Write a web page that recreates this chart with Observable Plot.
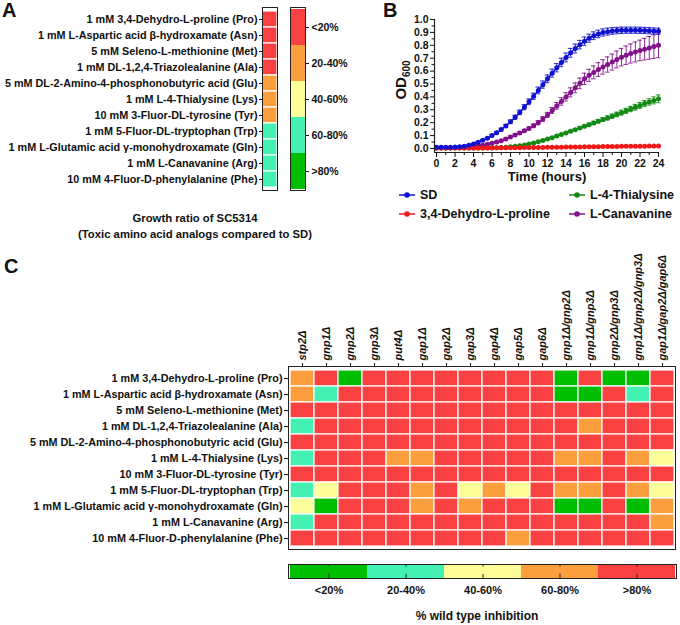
<!DOCTYPE html>
<html><head><meta charset="utf-8">
<script src="https://cdn.jsdelivr.net/npm/d3@7"></script>
<script src="https://cdn.jsdelivr.net/npm/@observablehq/plot@0.6"></script>
<style>
body{margin:0;background:#fff;font-family:"Liberation Sans",Arial,sans-serif;}
#root{position:relative;width:680px;height:625px;overflow:hidden;background:#fff;}
.pc g[aria-label="x-axis tick label"] text{font-style:italic;font-size:11px;}
.t{position:absolute;font-weight:bold;color:#111;white-space:nowrap;}
</style></head><body><div id="root"></div>
<script>
// ---------- data ----------
const analogs = [
  "1 mM 3,4-Dehydro-L-proline (Pro)",
  "1 mM L-Aspartic acid β-hydroxamate (Asn)",
  "5 mM Seleno-L-methionine (Met)",
  "1 mM DL-1,2,4-Triazolealanine (Ala)",
  "5 mM DL-2-Amino-4-phosphonobutyric acid (Glu)",
  "1 mM L-4-Thialysine (Lys)",
  "10 mM 3-Fluor-DL-tyrosine (Tyr)",
  "1 mM 5-Fluor-DL-tryptophan (Trp)",
  "1 mM L-Glutamic acid γ-monohydroxamate (Gln)",
  "1 mM L-Canavanine (Arg)",
  "10 mM 4-Fluor-D-phenylalanine (Phe)"
];
const growthBins = ["<20%", "20-40%", "40-60%", "60-80%", ">80%"];
const growthColors = ["#FA4141", "#FA9E3E", "#FFFF99", "#44F0B2", "#00BE00"];
// growth ratio bin index per analog (panel A)
const growthCode = [0, 0, 0, 0, 1, 1, 1, 3, 3, 3, 3];

const strains = ["stp2Δ","gnp1Δ","gnp2Δ","gnp3Δ","put4Δ","gap1Δ","gap2Δ","gap3Δ","gap4Δ","gap5Δ","gap6Δ",
  "gnp1Δ/gnp2Δ","gnp1Δ/gnp3Δ","gnp2Δ/gnp3Δ","gnp1Δ/gnp2Δ/gnp3Δ","gap1Δ/gap2Δ/gap6Δ"];
const inhBins = ["<20%", "20-40%", "40-60%", "60-80%", ">80%"];
const inhColors = ["#00BE00", "#44F0B2", "#FFFF99", "#FA9E3E", "#FA4141"];
// % wild type inhibition bin index (0:<20 ... 4:>80), rows = analogs, cols = strains
const inhPro = [3,4,0,4,4,4,4,4,4,4,4,0,4,0,0,4];
const inhAsn = [3,1,4,4,4,4,4,4,4,4,4,0,0,4,1,4];
const inhMet = [4,4,4,4,4,4,4,4,4,4,4,4,4,4,4,4];
const inhAla = [1,4,4,4,4,4,4,4,4,4,4,4,3,4,4,4];
const inhGlu = [4,4,4,4,4,4,4,4,4,4,4,4,4,4,4,4];
const inhLys = [1,4,4,4,3,3,4,4,4,4,4,3,3,4,3,2];
const inhTyr = [4,4,4,4,4,4,4,4,4,4,4,4,4,4,4,4];
const inhTrp = [1,2,4,4,4,3,4,2,3,2,4,3,3,4,3,2];
const inhGln = [2,0,4,4,4,3,4,3,4,4,4,0,0,4,0,3];
const inhArg = [1,4,4,4,4,4,4,4,4,4,4,4,4,4,4,3];
const inhPhe = [4,4,4,4,4,4,4,4,4,3,4,4,4,4,4,4];

// growth curves (panel B)
const hours = [0,0.5,1,1.5,2,2.5,3,3.5,4,4.5,5,5.5,6,6.5,7,7.5,8,8.5,9,9.5,10,10.5,11,11.5,12,
  12.5,13,13.5,14,14.5,15,15.5,16,16.5,17,17.5,18,18.5,19,19.5,20,20.5,21,21.5,22,22.5,23,23.5,24];
const odSD = [0.010,0.010,0.010,0.010,0.011,0.013,0.018,0.025,0.035,0.048,0.063,0.080,0.100,0.122,0.147,0.175,0.207,
  0.242,0.280,0.320,0.362,0.405,0.450,0.495,0.540,0.584,0.626,0.667,0.706,0.742,0.775,0.805,0.832,
  0.855,0.874,0.888,0.899,0.906,0.911,0.914,0.916,0.917,0.917,0.917,0.916,0.915,0.913,0.911,0.909];
const errSD = [0,0,0,0,0,0,0.002,0.003,0.004,0.005,0.006,0.007,0.008,0.009,0.010,0.012,0.014,0.016,0.018,0.020,
  0.022,0.024,0.026,0.028,0.030,0.031,0.032,0.033,0.034,0.034,0.034,0.033,0.032,0.031,0.030,0.029,0.028,0.027,
  0.026,0.025,0.025,0.024,0.024,0.024,0.024,0.024,0.024,0.024,0.024];
const odPro = [0.003,0.003,0.003,0.003,0.003,0.003,0.003,0.003,0.003,0.003,0.004,0.004,0.004,0.005,0.005,0.005,0.006,
  0.006,0.006,0.007,0.007,0.008,0.008,0.008,0.009,0.009,0.010,0.010,0.011,0.011,0.012,0.012,0.013,
  0.013,0.014,0.014,0.015,0.015,0.016,0.016,0.017,0.017,0.017,0.018,0.018,0.018,0.019,0.019,0.019];
const errPro = [0,0,0,0,0,0,0,0,0,0.003,0.003,0.003,0.003,0.003,0.003,0.003,0.003,0.003,0.003,0.003,0.003,0.003,
  0.003,0.003,0.003,0.003,0.003,0.003,0.003,0.003,0.003,0.003,0.003,0.003,0.003,0.003,0.003,0.003,0.003,0.003,
  0.003,0.003,0.003,0.003,0.003,0.003,0.003,0.003,0.003];
const odLys = [0.004,0.004,0.004,0.004,0.004,0.004,0.004,0.004,0.004,0.004,0.004,0.005,0.005,0.006,0.008,0.010,0.013,
  0.017,0.022,0.028,0.035,0.043,0.052,0.062,0.073,0.084,0.096,0.108,0.120,0.133,0.146,0.159,0.172,
  0.185,0.198,0.211,0.224,0.237,0.250,0.264,0.278,0.292,0.306,0.320,0.334,0.348,0.361,0.373,0.385];
const errLys = [0,0,0,0,0,0,0,0,0,0,0,0,0,0,0,0,0,0.002,0.002,0.003,0.003,0.004,0.004,0.005,0.005,
  0.006,0.006,0.007,0.008,0.008,0.009,0.010,0.011,0.012,0.013,0.014,0.015,0.016,0.017,0.018,0.019,
  0.020,0.021,0.022,0.023,0.024,0.025,0.027,0.030];
const odArg = [0.005,0.005,0.005,0.005,0.006,0.007,0.009,0.012,0.015,0.020,0.026,0.033,0.041,0.050,0.060,0.074,0.090,
  0.105,0.120,0.137,0.155,0.176,0.200,0.228,0.260,0.295,0.330,0.365,0.400,0.435,0.470,0.505,0.540,
  0.567,0.590,0.612,0.632,0.651,0.670,0.690,0.708,0.723,0.736,0.748,0.760,0.770,0.780,0.790,0.800];
const errArg = [0,0,0,0,0,0.001,0.002,0.002,0.003,0.003,0.004,0.004,0.005,0.005,0.006,0.007,0.008,
  0.009,0.010,0.011,0.012,0.014,0.016,0.018,0.020,0.023,0.026,0.029,0.032,0.035,0.038,0.041,0.044,
  0.047,0.050,0.053,0.056,0.059,0.062,0.065,0.068,0.071,0.074,0.077,0.080,0.084,0.088,0.092,0.096];
const seriesNames = ["SD", "3,4-Dehydro-L-proline", "L-4-Thialysine", "L-Canavanine"];
const seriesColors = ["#1010D0", "#F01818", "#138A13", "#82128A"];

const xMajor = [0,2,4,6,8,10,12,14,16,18,20,22,24];
const xMinor = [1,3,5,7,9,11,13,15,17,19,21,23];
const yMajor = [0,0.1,0.2,0.3,0.4,0.5,0.6,0.7,0.8,0.9,1.0];
const yMinor = [0.05,0.15,0.25,0.35,0.45,0.55,0.65,0.75,0.85,0.95];

// ---------- helpers ----------
const root = document.getElementById("root");
const FONT = '"Liberation Sans", Arial, Helvetica, sans-serif';
function style(fs){ return {fontFamily: FONT, fontSize: fs + "px", fontWeight: "bold", background: "transparent", overflow: "visible", color: "#111"}; }
function place(el, left, top){ el.style.position = "absolute"; el.style.left = left + "px"; el.style.top = top + "px"; el.style.maxWidth = "none"; root.appendChild(el); return el; }
function text(html, left, top, css){ const d = document.createElement("div"); d.className = "t"; d.innerHTML = html; d.style.left = left + "px"; d.style.top = top + "px"; d.style.cssText += css || ""; root.appendChild(d); return d; }

// ---------- Panel A ----------
const aData = analogs.map((a, i) => ({analog: a, bin: growthBins[growthCode[i]]}));
place(Plot.plot({
  width: 280, height: 200, marginLeft: 262, marginRight: 3, marginTop: 7, marginBottom: 10,
  style: style(10.8),
  x: {domain: ["SC5314"], axis: null, padding: 0},
  y: {domain: analogs, padding: 0, axis: null},
  color: {domain: growthBins, range: growthColors},
  marks: [
    Plot.cell(aData, {x: () => "SC5314", y: "analog", fill: "bin", stroke: "white", strokeWidth: 1.2}),
    Plot.frame({stroke: "#222", strokeWidth: 1}),
    Plot.axisY({tickSize: 3, tickPadding: 2, label: null})
  ]
}), 0, 0);

place(Plot.plot({
  width: 60, height: 200, marginLeft: 10, marginRight: 35, marginTop: 7, marginBottom: 10,
  style: style(10.5),
  x: {domain: ["k"], axis: null, padding: 0},
  y: {domain: growthBins, padding: 0, axis: null},
  color: {domain: growthBins, range: growthColors},
  marks: [
    Plot.cell(growthBins, {x: () => "k", y: d => d, fill: d => d}),
    Plot.frame({stroke: "#222", strokeWidth: 1}),
    Plot.axisY({anchor: "right", tickSize: 3, tickPadding: 3, label: null})
  ]
}), 280, 0);

text("A", 2, 0, "font-size:20px;line-height:20px;");
text("Growth ratio of SC5314<br>(Toxic amino acid analogs compared to SD)", 0, 210,
  "width:390px;text-align:center;font-size:11.3px;line-height:16px;");

// ---------- Panel B ----------
const curves = [
  {name: seriesNames[2], color: seriesColors[2], v: odLys, e: errLys},
  {name: seriesNames[3], color: seriesColors[3], v: odArg, e: errArg},
  {name: seriesNames[1], color: seriesColors[1], v: odPro, e: errPro},
  {name: seriesNames[0], color: seriesColors[0], v: odSD, e: errSD}
];
const bMarks = [];
for (const c of curves) {
  const pts = hours.map((t, i) => ({t, v: c.v[i], e: c.e[i] || 0})).filter(d => d.v != null);
  const eb = pts.filter(d => d.e > 0);
  bMarks.push(
    Plot.ruleX(eb, {x: "t", y1: d => d.v - d.e, y2: d => d.v + d.e, stroke: c.color, strokeWidth: 0.9}),
    Plot.ruleY(eb, {y: d => d.v + d.e, x1: d => d.t - 0.25, x2: d => d.t + 0.25, stroke: c.color, strokeWidth: 0.9}),
    Plot.ruleY(eb, {y: d => d.v - d.e, x1: d => d.t - 0.25, x2: d => d.t + 0.25, stroke: c.color, strokeWidth: 0.9}),
    Plot.line(pts, {x: "t", y: "v", stroke: c.color, strokeWidth: 1.5}),
    Plot.dot(pts, {x: "t", y: "v", fill: c.color, r: 2.5})
  );
}
place(Plot.plot({
  width: 340, height: 200, marginLeft: 94, marginRight: 22, marginTop: 19, marginBottom: 48,
  style: style(10.5),
  x: {domain: [-0.22, 24], axis: null},
  y: {domain: [-0.031, 1], axis: null},
  marks: [
    ...bMarks,
    Plot.ruleY([-0.031], {x1: -0.22, x2: 24, stroke: "#222", strokeWidth: 1.2}),
    Plot.ruleX([-0.22], {y1: -0.031, y2: 1, stroke: "#222", strokeWidth: 1.2}),
    Plot.axisX({ticks: xMajor, tickSize: 5, tickPadding: 2, label: null, tickFormat: d3.format("d")}),
    Plot.axisX({ticks: xMinor, tickSize: 3, label: null, tickFormat: () => ""}),
    Plot.axisY({ticks: yMajor, tickSize: 4, tickPadding: 2, label: null, tickFormat: d3.format(".1f")}),
    Plot.axisY({ticks: yMinor, tickSize: 2.5, label: null, tickFormat: () => ""})
  ]
}), 340, 0);

text("B", 383, 0, "font-size:20px;line-height:20px;");
text("Time (hours)", 492, 169, "width:110px;text-align:center;font-size:13px;");
text("OD<sub style='font-size:10px;'>600</sub>", 370, 70, "width:64px;text-align:center;font-size:15px;transform:rotate(-90deg);");

// legend B
const legPos = [[398, 188], [398, 207], [568, 188], [568, 207]];
seriesNames.forEach((n, i) => {
  const [lx, ly] = legPos[i];
  const s = document.createElementNS("http://www.w3.org/2000/svg", "svg");
  s.setAttribute("width", 18); s.setAttribute("height", 14);
  s.innerHTML = `<line x1="1" x2="17" y1="7" y2="7" stroke="${seriesColors[i]}" stroke-width="1.5"/><circle cx="9" cy="7" r="2.8" fill="${seriesColors[i]}"/>`;
  place(s, lx, ly);
  text(n, lx + 22, ly - 1, "font-size:12.5px;line-height:16px;");
});

// ---------- Panel C ----------
const inhRows = [inhPro, inhAsn, inhMet, inhAla, inhGlu, inhLys, inhTyr, inhTrp, inhGln, inhArg, inhPhe];
const cData = [];
inhRows.forEach((row, r) => row.forEach((code, c) => cData.push({analog: analogs[r], strain: strains[c], bin: inhBins[code]})));
const plotC = Plot.plot({
  width: 680, height: 320, marginLeft: 288, marginRight: 5, marginTop: 126, marginBottom: 11,
  style: style(10.8),
  x: {domain: strains, padding: 0, axis: null},
  y: {domain: analogs, padding: 0, axis: null},
  color: {domain: inhBins, range: inhColors},
  marks: [
    Plot.cell(cData, {x: "strain", y: "analog", fill: "bin", stroke: "white", strokeWidth: 1.2}),
    Plot.frame({stroke: "#222", strokeWidth: 1}),
    Plot.axisX({anchor: "top", tickRotate: -90, tickSize: 4, tickPadding: 2, label: null, fontStyle: "italic", fontSize: 11}),
    Plot.axisY({tickSize: 4, tickPadding: 2, label: null})
  ]
});
plotC.classList.add("pc");
place(plotC, 0, 240);
text("C", 4, 256, "font-size:20px;line-height:20px;");

place(Plot.plot({
  width: 680, height: 50, marginLeft: 288, marginRight: 4, marginTop: 8, marginBottom: 28,
  style: style(11),
  x: {domain: inhBins, padding: 0, axis: null},
  y: {domain: [0, 1], axis: null},
  color: {domain: inhBins, range: inhColors},
  marks: [
    Plot.barY(inhBins, {x: d => d, y1: 0, y2: 1, fill: d => d, inset: 0}),
    Plot.ruleX(inhBins, {x: d => d, y1: 0, y2: 0.3, stroke: "#222"}),
    Plot.ruleX(inhBins, {x: d => d, y1: 0.82, y2: 1, stroke: "#222"}),
    Plot.frame({stroke: "#222", strokeWidth: 1}),
    Plot.axisX({tickSize: 0, tickPadding: 8, label: null})
  ]
}), 0, 556);
text("% wild type inhibition", 367, 609, "width:220px;text-align:center;font-size:12px;");
</script></body></html>
